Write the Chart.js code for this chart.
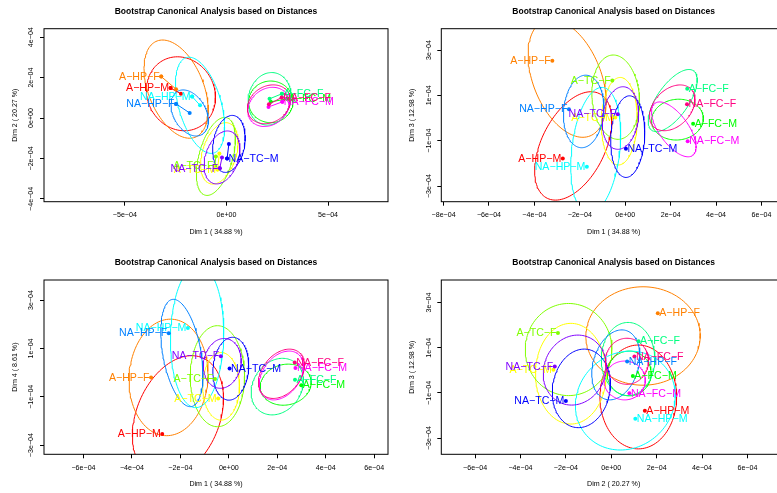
<!DOCTYPE html>
<html><head><meta charset="utf-8">
<script src="https://cdn.jsdelivr.net/npm/chart.js@4.4.0/dist/chart.umd.min.js"></script>
<style>
html,body{margin:0;padding:0;background:#fff;overflow:hidden;width:777px;height:493px;position:relative}
canvas{position:absolute}
</style></head><body>
<canvas id="c1"></canvas><canvas id="c2"></canvas><canvas id="c3"></canvas><canvas id="c4"></canvas>
<script>
// ---------- data ----------
const groups = ['A-HP-M','A-HP-F','A-TC-M','A-TC-F','A-FC-M','A-FC-F','NA-HP-M','NA-HP-F','NA-TC-M','NA-TC-F','NA-FC-M','NA-FC-F'];
const colors = ['#FF0000','#FF8000','#FFFF00','#80FF00','#00FF00','#00FF80','#00FFFF','#0080FF','#0000FF','#8000FF','#FF00FF','#FF0080'];
// group centroids on the canonical dimensions
const dim1 = [-2.75e-4,-3.21e-4,-0.44e-4,-0.57e-4, 2.99e-4, 2.73e-4,-1.69e-4,-2.48e-4, 0.03e-4,-0.33e-4, 2.75e-4, 2.72e-4];
const dim2 = [ 1.48e-4, 2.05e-4,-2.55e-4,-2.35e-4, 0.95e-4, 1.20e-4, 1.06e-4, 0.70e-4,-2.00e-4,-2.49e-4, 0.80e-4, 1.02e-4];
const dim3 = [-1.79e-4, 2.53e-4, 0.02e-4, 1.65e-4,-0.25e-4, 1.29e-4,-2.15e-4, 0.39e-4,-1.36e-4, 0.17e-4,-1.02e-4, 0.61e-4];
const dim4 = [-2.54e-4,-0.20e-4,-1.07e-4,-0.27e-4,-0.52e-4,-0.30e-4, 1.84e-4, 1.63e-4, 0.17e-4, 0.68e-4, 0.19e-4, 0.42e-4];
// bootstrap ellipses: [centre x, centre y, half width, half height, correlation]
const ell12 = [
  [-2.24e-4, 1.20e-4, 1.70e-4, 1.83e-4,-0.10],[-2.48e-4, 1.43e-4, 1.58e-4, 2.43e-4,-0.42],
  [-0.35e-4,-1.75e-4, 0.92e-4, 1.52e-4, 0.35],[-0.52e-4,-1.90e-4, 0.96e-4, 1.93e-4, 0.45],
  [ 2.18e-4, 0.80e-4, 1.09e-4, 1.03e-4, 0.00],[ 2.12e-4, 0.95e-4, 1.06e-4, 1.30e-4, 0.10],
  [-1.30e-4, 0.63e-4, 1.21e-4, 2.38e-4,-0.45],[-1.81e-4, 0.25e-4, 0.92e-4, 1.14e-4,-0.35],
  [ 0.12e-4,-1.28e-4, 0.80e-4, 1.41e-4, 0.20],[-0.22e-4,-1.95e-4, 0.88e-4, 1.31e-4, 0.30],
  [ 2.07e-4, 0.55e-4, 1.02e-4, 0.97e-4, 0.20],[ 2.09e-4, 0.68e-4, 1.06e-4, 0.96e-4, 0.20]];
const ell13 = [
  [-2.29e-4,-1.23e-4, 1.70e-4, 2.39e-4, 0.46],[-2.56e-4, 1.75e-4, 1.72e-4, 2.60e-4,-0.40],
  [-0.26e-4,-0.14e-4, 0.79e-4, 1.93e-4, 0.05],[-0.42e-4, 0.92e-4, 1.05e-4, 1.86e-4,-0.10],
  [ 2.30e-4,-0.07e-4, 1.14e-4, 0.90e-4, 0.05],[ 2.09e-4, 0.77e-4, 1.08e-4, 1.37e-4, 0.66],
  [-1.30e-4,-1.43e-4, 1.10e-4, 2.78e-4, 0.25],[-1.83e-4, 0.29e-4, 0.89e-4, 1.60e-4, 0.10],
  [ 0.11e-4,-0.82e-4, 0.75e-4, 1.80e-4, 0.10],[-0.21e-4, 0.00e-4, 0.80e-4, 1.38e-4, 0.14],
  [ 2.14e-4,-0.50e-4, 0.98e-4, 1.21e-4,-0.64],[ 2.07e-4, 0.45e-4, 1.00e-4, 1.01e-4, 0.35]];
const ell14 = [
  [-2.10e-4,-1.84e-4, 1.88e-4, 2.54e-4, 0.30],[-2.49e-4,-0.20e-4, 1.63e-4, 2.41e-4, 0.05],
  [-0.32e-4,-0.57e-4, 0.76e-4, 1.40e-4, 0.00],[-0.47e-4,-0.15e-4, 1.12e-4, 2.09e-4, 0.00],
  [ 2.35e-4,-0.50e-4, 1.05e-4, 0.85e-4, 0.10],[ 2.00e-4,-0.58e-4, 1.08e-4, 1.17e-4, 0.20],
  [-1.31e-4, 1.50e-4, 1.10e-4, 2.95e-4, 0.05],[-1.94e-4, 0.81e-4, 0.87e-4, 2.22e-4,-0.40],
  [ 0.08e-4, 0.16e-4, 0.74e-4, 1.30e-4, 0.10],[-0.27e-4, 0.38e-4, 0.78e-4, 1.03e-4, 0.10],
  [ 2.17e-4,-0.12e-4, 0.91e-4, 1.01e-4, 0.35],[ 2.17e-4,-0.05e-4, 0.95e-4, 1.02e-4, 0.35]];
const ell23 = [
  [ 1.19e-4,-1.18e-4, 1.69e-4, 2.30e-4, 0.00],[ 1.40e-4, 1.52e-4, 2.52e-4, 2.18e-4, 0.00],
  [-1.78e-4,-0.15e-4, 1.56e-4, 2.23e-4, 0.00],[-1.88e-4, 0.92e-4, 1.91e-4, 2.04e-4, 0.00],
  [ 0.79e-4,-0.14e-4, 0.97e-4, 0.99e-4, 0.00],[ 0.74e-4, 0.50e-4, 1.18e-4, 1.62e-4, 0.00],
  [ 0.62e-4,-1.34e-4, 2.20e-4, 2.19e-4, 0.10],[ 0.20e-4, 0.24e-4, 1.06e-4, 1.55e-4, 0.25],
  [-1.32e-4,-0.80e-4, 1.28e-4, 1.74e-4, 0.10],[-1.61e-4, 0.01e-4, 1.39e-4, 1.55e-4, 0.10],
  [ 0.59e-4,-0.45e-4, 0.91e-4, 0.86e-4, 0.00],[ 0.69e-4, 0.40e-4, 0.95e-4, 1.02e-4, 0.00]];
// axis ticks
const ticks12x = [-5e-4, 0, 5e-4];
const ticks12y = [-4e-4, -2e-4, 0, 2e-4, 4e-4];
const ticks13x = [-8e-4, -6e-4, -4e-4, -2e-4, 0, 2e-4, 4e-4, 6e-4];
const ticksOdd = [-3e-4, -1e-4, 1e-4, 3e-4];
const ticksEven6 = [-6e-4, -4e-4, -2e-4, 0, 2e-4, 4e-4, 6e-4];
const mainTitle = 'Bootstrap Canonical Analysis based on Distances';
const dimTitles = ['Dim 1 ( 34.88 %)', 'Dim 2 ( 20.27 %)', 'Dim 3 ( 12.98 %)', 'Dim 4 ( 8.61 %)'];

// ---------- style / layout ----------
const FAMILY = '"Liberation Sans", Arial, Helvetica, sans-serif';
const TICK_SIZE = 7.1, AXT_SIZE = 7.1, MAIN_SIZE = 8.5, LAB_SIZE = 10.6, LH = 1.2, TICK_LEN = 4;
Chart.defaults.font.family = FAMILY;
const MINUS = '\u2212';

function rExp(v) {
  if (Math.abs(v) < 1e-12) return '0e+00';
  const [m, e] = v.toExponential(0).split('e');
  const n = parseInt(e, 10);
  return (m + 'e' + (n < 0 ? '-' : '+') + String(Math.abs(n)).padStart(2, '0')).replace(/-/g, MINUS);
}
function ellipsePts(e) {
  const [cx, cy, hx, hy, r] = e, phi = Math.acos(r), N = 120, pts = [];
  for (let k = 0; k <= N; k++) {
    const t = 2 * Math.PI * k / N;
    pts.push({x: cx + hx * Math.cos(t), y: cy + hy * Math.cos(t + phi)});
  }
  return pts;
}
const mctx = document.createElement('canvas').getContext('2d');
function widest(labels, size) {
  mctx.font = size + 'px ' + FAMILY;
  return Math.max(...labels.map(s => mctx.measureText(s).width));
}

const panels = [
  {id:'c1', cv:{l:0,   t:0,   w:392, h:246}, box:{l:44,    t:28.7, r:389, b:201.7},
   xs:dim1, ys:dim2, ell:ell12, means:true, xlim:[-8.98e-4, 7.95e-4], ylim:[-4.14e-4, 4.42e-4],
   xt:ticks12x, yt:ticks12y, xtitle:dimTitles[0], ytitle:dimTitles[1]},
  {id:'c2', cv:{l:388, t:0,   w:402, h:246}, box:{l:441.3, t:28.7, r:786, b:201.7},
   xs:dim1, ys:dim3, ell:ell13, means:false, xlim:[-8.1e-4, 7.08e-4], ylim:[-3.69e-4, 3.94e-4],
   xt:ticks13x, yt:ticksOdd, xtitle:dimTitles[0], ytitle:dimTitles[2]},
  {id:'c3', cv:{l:0,   t:246, w:392, h:247}, box:{l:44,    t:280,  r:389, b:454.3},
   xs:dim1, ys:dim4, ell:ell14, means:false, xlim:[-7.63e-4, 6.57e-4], ylim:[-3.38e-4, 3.83e-4],
   xt:ticksEven6, yt:ticksOdd, xtitle:dimTitles[0], ytitle:dimTitles[3]},
  {id:'c4', cv:{l:388, t:246, w:402, h:247}, box:{l:441.3, t:280,  r:786, b:454.3},
   xs:dim2, ys:dim3, ell:ell23, means:false, xlim:[-7.49e-4, 7.70e-4], ylim:[-3.72e-4, 4.0e-4],
   xt:ticksEven6, yt:ticksOdd, xtitle:dimTitles[1], ytitle:dimTitles[2]}
];

function makePlugin(p) {
  return {
    id: 'rLabels',
    afterDatasetsDraw(chart) {
      const {ctx, chartArea: a, scales: {x, y}} = chart;
      ctx.save();
      ctx.beginPath(); ctx.rect(a.left, a.top, a.right - a.left, a.bottom - a.top); ctx.clip();
      ctx.font = LAB_SIZE + 'px ' + FAMILY;
      ctx.textBaseline = 'middle';
      groups.forEach((g, i) => {
        const px = x.getPixelForValue(p.xs[i]), py = y.getPixelForValue(p.ys[i]);
        const left = p.xs[i] < 0;
        ctx.textAlign = left ? 'right' : 'left';
        ctx.fillStyle = colors[i];
        ctx.fillText(g.replace(/-/g, MINUS), px + (left ? -1.5 : 1.5), py + 0.3);
      });
      ctx.restore();
    },
    afterDraw(chart) {
      const {ctx, chartArea: a} = chart;
      ctx.save(); ctx.strokeStyle = '#000'; ctx.lineWidth = 1;
      ctx.strokeRect(a.left, a.top, a.right - a.left, a.bottom - a.top);
      ctx.restore();
    }
  };
}

panels.forEach(p => {
  const cv = document.getElementById(p.id);
  cv.width = p.cv.w; cv.height = p.cv.h;
  cv.style.left = p.cv.l + 'px'; cv.style.top = p.cv.t + 'px';
  cv.style.width = p.cv.w + 'px'; cv.style.height = p.cv.h + 'px';

  const datasets = [];
  p.ell.forEach((e, i) => datasets.push({
    type: 'scatter', data: ellipsePts(e), showLine: true, borderColor: colors[i], borderWidth: 1,
    pointRadius: 0, fill: false, tension: 0, order: 100 - i, clip: 0
  }));
  if (p.means) groups.forEach((g, i) => datasets.push({
    type: 'scatter', data: [{x: p.xs[i], y: p.ys[i]}, {x: p.ell[i][0], y: p.ell[i][1]}],
    showLine: true, borderColor: colors[i], backgroundColor: colors[i], borderWidth: 1,
    pointRadius: 2, pointBorderWidth: 0, order: 50 - i, clip: 0
  }));
  datasets.push({
    type: 'scatter', data: groups.map((g, i) => ({x: p.xs[i], y: p.ys[i]})),
    pointBackgroundColor: colors, pointBorderColor: colors, pointBorderWidth: 0, pointRadius: 2,
    showLine: false, order: 0, clip: 0
  });

  const lhT = TICK_SIZE * LH, lhA = AXT_SIZE * LH, lhM = MAIN_SIZE * LH;
  const mainY = p.box.t - 17.3;
  const yLabels = p.yt.map(rExp);
  const yTickPad = 12.5 - TICK_LEN - widest(yLabels, TICK_SIZE) / 2;
  const xTickPad = 13.8 - TICK_LEN - lhT / 2;
  const xScaleH = p.cv.t + p.cv.h - p.box.b;
  const yScaleW = p.box.l - p.cv.l;
  const xTitleY = p.box.b + 30;
  const yTitleX = p.box.l - 29;

  new Chart(cv, {
    type: 'scatter',
    data: {datasets},
    plugins: [makePlugin(p)],
    options: {
      responsive: false, animation: false, devicePixelRatio: 1,
      layout: {padding: {left: 0, top: 0, bottom: 0, right: p.cv.l + p.cv.w - p.box.r}},
      plugins: {
        legend: {display: false}, tooltip: {enabled: false},
        title: {display: true, text: mainTitle, fullSize: false, color: '#000',
          font: {size: MAIN_SIZE, weight: 'bold'},
          padding: {top: mainY - p.cv.t - lhM / 2, bottom: p.box.t - mainY - lhM / 2}}
      },
      scales: {
        x: {
          type: 'linear', min: p.xlim[0], max: p.xlim[1], bounds: 'data',
          afterBuildTicks: s => { s.ticks = p.xt.map(v => ({value: v})); },
          afterFit: s => { s.height = xScaleH; },
          grid: {display: true, drawOnChartArea: false, drawTicks: true, tickLength: TICK_LEN, color: '#000', lineWidth: 1},
          border: {display: false},
          ticks: {callback: v => rExp(v), font: {size: TICK_SIZE}, color: '#000', padding: xTickPad,
                  minRotation: 0, maxRotation: 0, autoSkip: false},
          title: {display: true, text: p.xtitle, color: '#000', font: {size: AXT_SIZE},
                  padding: {top: 0, bottom: p.cv.t + p.cv.h - xTitleY - lhA / 2}}
        },
        y: {
          type: 'linear', min: p.ylim[0], max: p.ylim[1], bounds: 'data',
          afterBuildTicks: s => { s.ticks = p.yt.map(v => ({value: v})); },
          afterFit: s => { s.width = yScaleW; },
          grid: {display: true, drawOnChartArea: false, drawTicks: true, tickLength: TICK_LEN, color: '#000', lineWidth: 1},
          border: {display: false},
          ticks: {callback: v => rExp(v), font: {size: TICK_SIZE}, color: '#000', padding: yTickPad,
                  minRotation: 90, maxRotation: 90, crossAlign: 'center', autoSkip: false},
          title: {display: true, text: p.ytitle, color: '#000', font: {size: AXT_SIZE},
                  padding: {top: yTitleX - p.cv.l - lhA / 2, bottom: 0}}
        }
      }
    }
  });
});
</script>
</body></html>
